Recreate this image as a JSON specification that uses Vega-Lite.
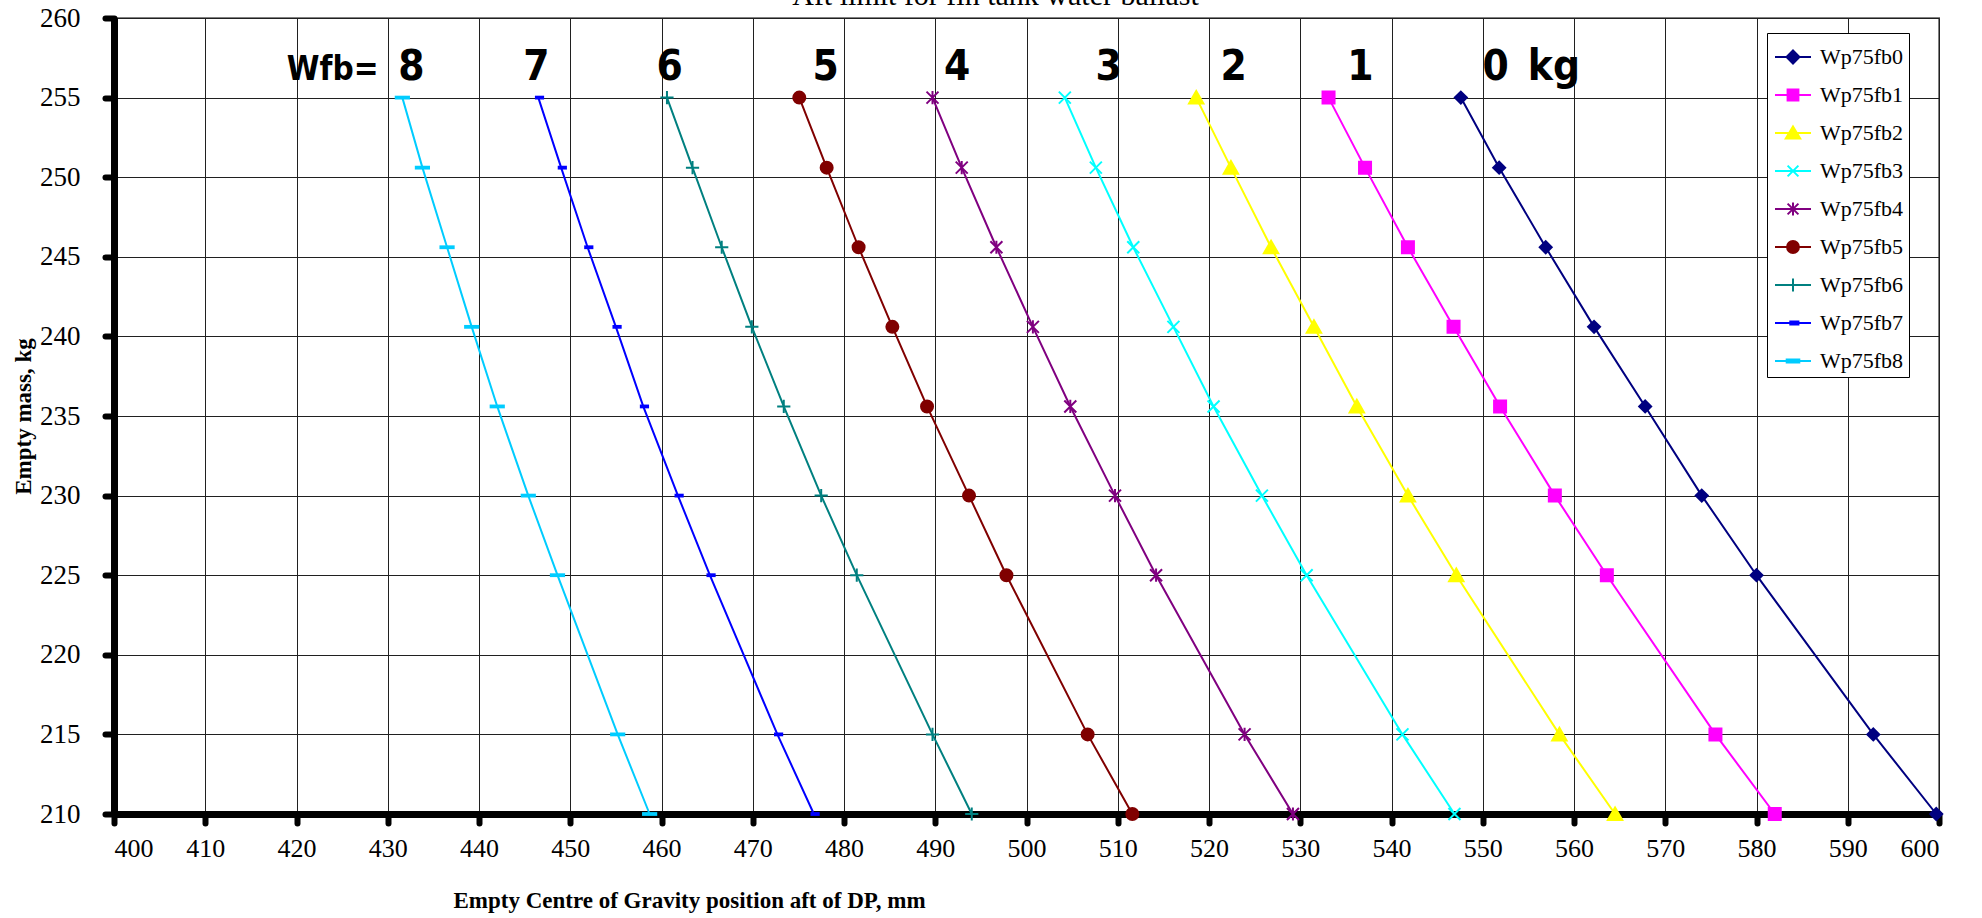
{
  "$schema": "https://vega.github.io/schema/vega-lite/v6.json",
  "width": 1825,
  "height": 796,
  "autosize": {"type": "none"},
  "padding": {"left": 114, "top": 18, "right": 43, "bottom": 104},
  "background": "white",
  "title": {"text": "Aft limit for fin tank water ballast", "font": "Liberation Serif", "fontSize": 30, "fontWeight": "normal", "color": "black", "offset": -7, "anchor": "middle", "dx": -31},
  "config": {
    "view": {"stroke": "#808080", "strokeWidth": 2},
    "axis": {
      "domainColor": "black", "domainWidth": 7, "tickColor": "black", "tickWidth": 6, "tickSize": 9, "tickCap": "round",
      "labelFont": "Liberation Serif", "labelFontSize": 26, "labelColor": "black",
      "titleFont": "Liberation Serif", "titleFontSize": 23, "titleFontWeight": "bold", "titleColor": "black",
      "gridColor": "#202020", "gridWidth": 1, "gridOpacity": 1
    }
  },
  "datasets": {
    "pts": [
      {"s": "Wp75fb0", "x": 547.6, "y": 255}, {"s": "Wp75fb0", "x": 551.8, "y": 250.6}, {"s": "Wp75fb0", "x": 556.9, "y": 245.6}, {"s": "Wp75fb0", "x": 562.2, "y": 240.6}, {"s": "Wp75fb0", "x": 567.8, "y": 235.6}, {"s": "Wp75fb0", "x": 574.0, "y": 230}, {"s": "Wp75fb0", "x": 580.0, "y": 225}, {"s": "Wp75fb0", "x": 592.8, "y": 215}, {"s": "Wp75fb0", "x": 599.7, "y": 210},
      {"s": "Wp75fb1", "x": 533.1, "y": 255}, {"s": "Wp75fb1", "x": 537.1, "y": 250.6}, {"s": "Wp75fb1", "x": 541.8, "y": 245.6}, {"s": "Wp75fb1", "x": 546.8, "y": 240.6}, {"s": "Wp75fb1", "x": 551.9, "y": 235.6}, {"s": "Wp75fb1", "x": 557.9, "y": 230}, {"s": "Wp75fb1", "x": 563.6, "y": 225}, {"s": "Wp75fb1", "x": 575.5, "y": 215}, {"s": "Wp75fb1", "x": 582.0, "y": 210},
      {"s": "Wp75fb2", "x": 518.6, "y": 255}, {"s": "Wp75fb2", "x": 522.4, "y": 250.6}, {"s": "Wp75fb2", "x": 526.8, "y": 245.6}, {"s": "Wp75fb2", "x": 531.5, "y": 240.6}, {"s": "Wp75fb2", "x": 536.2, "y": 235.6}, {"s": "Wp75fb2", "x": 541.8, "y": 230}, {"s": "Wp75fb2", "x": 547.1, "y": 225}, {"s": "Wp75fb2", "x": 558.4, "y": 215}, {"s": "Wp75fb2", "x": 564.5, "y": 210},
      {"s": "Wp75fb3", "x": 504.2, "y": 255}, {"s": "Wp75fb3", "x": 507.6, "y": 250.6}, {"s": "Wp75fb3", "x": 511.7, "y": 245.6}, {"s": "Wp75fb3", "x": 516.1, "y": 240.6}, {"s": "Wp75fb3", "x": 520.5, "y": 235.6}, {"s": "Wp75fb3", "x": 525.8, "y": 230}, {"s": "Wp75fb3", "x": 530.7, "y": 225}, {"s": "Wp75fb3", "x": 541.2, "y": 215}, {"s": "Wp75fb3", "x": 546.9, "y": 210},
      {"s": "Wp75fb4", "x": 489.7, "y": 255}, {"s": "Wp75fb4", "x": 492.9, "y": 250.6}, {"s": "Wp75fb4", "x": 496.7, "y": 245.6}, {"s": "Wp75fb4", "x": 500.7, "y": 240.6}, {"s": "Wp75fb4", "x": 504.8, "y": 235.6}, {"s": "Wp75fb4", "x": 509.7, "y": 230}, {"s": "Wp75fb4", "x": 514.2, "y": 225}, {"s": "Wp75fb4", "x": 523.9, "y": 215}, {"s": "Wp75fb4", "x": 529.2, "y": 210},
      {"s": "Wp75fb5", "x": 475.1, "y": 255}, {"s": "Wp75fb5", "x": 478.1, "y": 250.6}, {"s": "Wp75fb5", "x": 481.6, "y": 245.6}, {"s": "Wp75fb5", "x": 485.3, "y": 240.6}, {"s": "Wp75fb5", "x": 489.1, "y": 235.6}, {"s": "Wp75fb5", "x": 493.7, "y": 230}, {"s": "Wp75fb5", "x": 497.8, "y": 225}, {"s": "Wp75fb5", "x": 506.7, "y": 215}, {"s": "Wp75fb5", "x": 511.6, "y": 210},
      {"s": "Wp75fb6", "x": 460.6, "y": 255}, {"s": "Wp75fb6", "x": 463.4, "y": 250.6}, {"s": "Wp75fb6", "x": 466.6, "y": 245.6}, {"s": "Wp75fb6", "x": 469.9, "y": 240.6}, {"s": "Wp75fb6", "x": 473.4, "y": 235.6}, {"s": "Wp75fb6", "x": 477.5, "y": 230}, {"s": "Wp75fb6", "x": 481.4, "y": 225}, {"s": "Wp75fb6", "x": 489.7, "y": 215}, {"s": "Wp75fb6", "x": 494.0, "y": 210},
      {"s": "Wp75fb7", "x": 446.5, "y": 255}, {"s": "Wp75fb7", "x": 449.0, "y": 250.6}, {"s": "Wp75fb7", "x": 451.9, "y": 245.6}, {"s": "Wp75fb7", "x": 455.0, "y": 240.6}, {"s": "Wp75fb7", "x": 458.0, "y": 235.6}, {"s": "Wp75fb7", "x": 461.8, "y": 230}, {"s": "Wp75fb7", "x": 465.3, "y": 225}, {"s": "Wp75fb7", "x": 472.7, "y": 215}, {"s": "Wp75fb7", "x": 476.7, "y": 210},
      {"s": "Wp75fb8", "x": 431.6, "y": 255}, {"s": "Wp75fb8", "x": 433.8, "y": 250.6}, {"s": "Wp75fb8", "x": 436.5, "y": 245.6}, {"s": "Wp75fb8", "x": 439.2, "y": 240.6}, {"s": "Wp75fb8", "x": 442.0, "y": 235.6}, {"s": "Wp75fb8", "x": 445.4, "y": 230}, {"s": "Wp75fb8", "x": 448.6, "y": 225}, {"s": "Wp75fb8", "x": 455.2, "y": 215}, {"s": "Wp75fb8", "x": 458.7, "y": 210}
    ],
    "labels": [
      {"t": "8", "x": 432.6, "y": 256.1},
      {"t": "7", "x": 446.3, "y": 256.1},
      {"t": "6", "x": 460.9, "y": 256.1},
      {"t": "5", "x": 478.0, "y": 256.1},
      {"t": "4", "x": 492.4, "y": 256.1},
      {"t": "3", "x": 509.0, "y": 256.1},
      {"t": "2", "x": 522.7, "y": 256.1},
      {"t": "1", "x": 536.6, "y": 256.1},
      {"t": "0", "x": 551.4, "y": 256.1},
      {"t": "kg", "x": 557.8, "y": 256.1}
    ],
    "prefix": [
      {"t": "Wfb=", "x": 429.0, "y": 256.1}
    ]
  },
  "encoding": {
    "x": {"field": "x", "type": "quantitative", "scale": {"domain": [400, 600], "nice": false, "zero": false},
      "axis": {"values": [400, 410, 420, 430, 440, 450, 460, 470, 480, 490, 500, 510, 520, 530, 540, 550, 560, 570, 580, 590, 600], "labelPadding": 12, "title": "Empty Centre of Gravity position aft of DP, mm", "titlePadding": 28, "titleX": 575, "titleAlign": "center"}},
    "y": {"field": "y", "type": "quantitative", "scale": {"domain": [210, 260], "nice": false, "zero": false},
      "axis": {"values": [210, 215, 220, 225, 230, 235, 240, 245, 250, 255, 260], "labelPadding": 25, "labelFontSize": 27, "title": "Empty mass, kg", "titlePadding": 4}}
  },
  "layer": [
    {
      "data": {"name": "pts"},
      "mark": {"type": "line", "strokeWidth": 2},
      "encoding": {
        "stroke": {"field": "s", "type": "nominal", "legend": null,
          "scale": {"domain": ["Wp75fb0", "Wp75fb1", "Wp75fb2", "Wp75fb3", "Wp75fb4", "Wp75fb5", "Wp75fb6", "Wp75fb7", "Wp75fb8"], "range": ["#000080", "#FF00FF", "#FFFF00", "#00FFFF", "#800080", "#800000", "#008080", "#0000FF", "#00CCFF"]}}
      }
    },
    {
      "data": {"name": "pts"},
      "mark": {"type": "point", "opacity": 1, "size": 144, "strokeWidth": 2},
      "encoding": {
        "shape": {"field": "s", "type": "nominal", "legend": null,
          "scale": {"domain": ["Wp75fb0", "Wp75fb1", "Wp75fb2", "Wp75fb3", "Wp75fb4", "Wp75fb5", "Wp75fb6", "Wp75fb7", "Wp75fb8"],
            "range": [
              "M0,-1L1,0L0,1L-1,0Z",
              "M-1,-1H1V1H-1Z",
              "M0,-1.1L1.2,1H-1.2Z",
              "M-1,-1L1,1M1,-1L-1,1",
              "M-1,-1L1,1M1,-1L-1,1M0,-1.1V1.1",
              "M1,0A1,1,0,1,1,-1,0A1,1,0,1,1,1,0Z",
              "M-1.1,0H1.1M0,-1.1V1.1",
              "M-0.4,-0.15H0.8V0.15H-0.4Z",
              "M-1.1,-0.15H1.1V0.15H-1.1Z"
            ]}},
        "fill": {"field": "s", "type": "nominal", "legend": null,
          "scale": {"domain": ["Wp75fb0", "Wp75fb1", "Wp75fb2", "Wp75fb3", "Wp75fb4", "Wp75fb5", "Wp75fb6", "Wp75fb7", "Wp75fb8"], "range": ["#000080", "#FF00FF", "#FFFF00", "#00FFFF", "#800080", "#800000", "#008080", "#0000FF", "#00CCFF"]}},
        "stroke": {"field": "s", "type": "nominal", "legend": null,
          "scale": {"domain": ["Wp75fb0", "Wp75fb1", "Wp75fb2", "Wp75fb3", "Wp75fb4", "Wp75fb5", "Wp75fb6", "Wp75fb7", "Wp75fb8"], "range": ["#000080", "#FF00FF", "#FFFF00", "#00FFFF", "#800080", "#800000", "#008080", "#0000FF", "#00CCFF"]}}
      }
    },
    {
      "data": {"name": "pts"},
      "transform": [{"filter": "datum.s == 'none'"}],
      "mark": {"type": "point", "opacity": 1, "size": 1296, "strokeWidth": 2},
      "encoding": {
        "shape": {"field": "s", "type": "nominal",
          "scale": {"domain": ["Wp75fb0", "Wp75fb1", "Wp75fb2", "Wp75fb3", "Wp75fb4", "Wp75fb5", "Wp75fb6", "Wp75fb7", "Wp75fb8"],
            "range": [
              "M-1,0H1M0,-0.36L0.36,0L0,0.36L-0.36,0Z",
              "M-1,0H1M-0.3,-0.3H0.3V0.3H-0.3Z",
              "M-1,0H1M0,-0.36L0.4,0.3H-0.4Z",
              "M-1,0H1M-0.3,-0.3L0.3,0.3M0.3,-0.3L-0.3,0.3",
              "M-1,0H1M-0.3,-0.3L0.3,0.3M0.3,-0.3L-0.3,0.3M0,-0.36V0.36",
              "M-1,0H1M0.33,0A0.33,0.33,0,1,1,-0.33,0A0.33,0.33,0,1,1,0.33,0Z",
              "M-1,0H1M0,-0.36V0.36",
              "M-1,0H1M-0.15,-0.08H0.3V0.08H-0.15Z",
              "M-1,0H1M-0.35,-0.08H0.35V0.08H-0.35Z"
            ]},
          "legend": {"orient": "none", "legendX": 1653, "legendY": 15,
            "title": "\u00a0\u00a0\u00a0\u00a0\u00a0\u00a0", "titleOrient": "right", "titlePadding": 0, "titleFontSize": 22, "titleFont": "Liberation Serif",
            "labelFont": "Liberation Serif", "labelFontSize": 22, "labelColor": "black",
            "fillColor": "white", "strokeColor": "black", "padding": 5, "symbolSize": 1296, "symbolStrokeWidth": 2, "symbolOpacity": 1,
            "rowPadding": 8, "labelOffset": 8, "symbolOffset": 2}},
        "fill": {"field": "s", "type": "nominal",
          "scale": {"domain": ["Wp75fb0", "Wp75fb1", "Wp75fb2", "Wp75fb3", "Wp75fb4", "Wp75fb5", "Wp75fb6", "Wp75fb7", "Wp75fb8"], "range": ["#000080", "#FF00FF", "#FFFF00", "#00FFFF", "#800080", "#800000", "#008080", "#0000FF", "#00CCFF"]}},
        "stroke": {"field": "s", "type": "nominal",
          "scale": {"domain": ["Wp75fb0", "Wp75fb1", "Wp75fb2", "Wp75fb3", "Wp75fb4", "Wp75fb5", "Wp75fb6", "Wp75fb7", "Wp75fb8"], "range": ["#000080", "#FF00FF", "#FFFF00", "#00FFFF", "#800080", "#800000", "#008080", "#0000FF", "#00CCFF"]}}
      }
    },
    {
      "data": {"name": "labels"},
      "mark": {"type": "text", "font": "DejaVu Sans Condensed, DejaVu Sans, sans-serif", "fontSize": 42, "fontWeight": "bold", "baseline": "alphabetic", "align": "center", "color": "black"},
      "encoding": {"text": {"field": "t", "type": "nominal"}}
    },
    {
      "data": {"name": "prefix"},
      "mark": {"type": "text", "font": "DejaVu Sans Condensed, DejaVu Sans, sans-serif", "fontSize": 33, "fontWeight": "bold", "baseline": "alphabetic", "align": "right", "color": "black"},
      "encoding": {"text": {"field": "t", "type": "nominal"}}
    }
  ],
  "resolve": {"scale": {"shape": "independent", "fill": "independent", "stroke": "independent"}}
}
